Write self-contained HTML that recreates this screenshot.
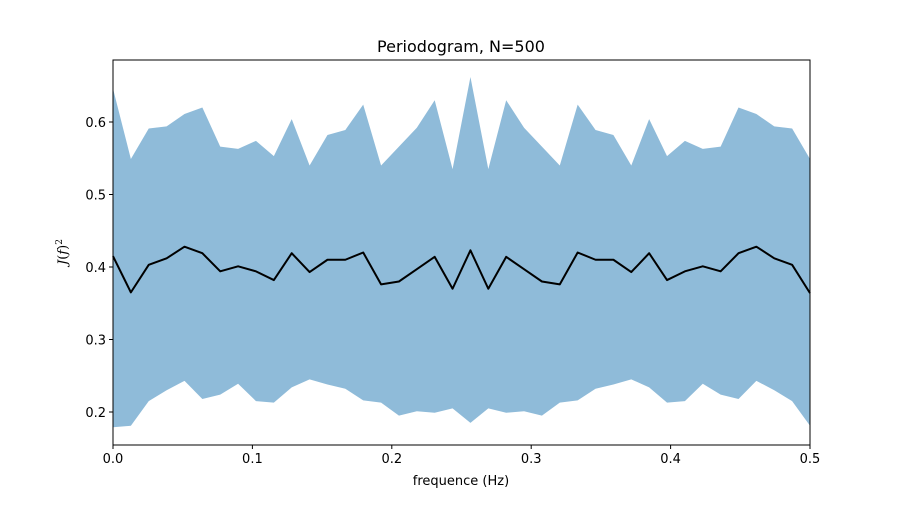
<!DOCTYPE html>
<html><head><meta charset="utf-8">
<style>
body{margin:0;background:#fff;}
svg text{font-family:"DejaVu Sans","Liberation Sans",sans-serif;fill:#000;}
</style></head>
<body>
<svg id="chart" width="900" height="500" viewBox="0 0 900 500" xmlns="http://www.w3.org/2000/svg">
<rect width="900" height="500" fill="#fff"/>
<g id="plot"></g>
</svg>
<script>
const meanVals=[0.415,0.365,0.403,0.412,0.428,0.419,0.394,0.401,0.394,0.382,0.419,0.393,0.410,0.410,0.420,0.376,0.380,0.397,0.414,0.370,0.423,0.370,0.414,0.397,0.380,0.376,0.420,0.410,0.410,0.393,0.419,0.382,0.394,0.401,0.394,0.419,0.428,0.412,0.403,0.364];
const upperVals=[0.646,0.549,0.591,0.594,0.611,0.620,0.566,0.563,0.574,0.553,0.604,0.540,0.582,0.589,0.624,0.540,0.566,0.592,0.630,0.535,0.662,0.535,0.630,0.592,0.566,0.540,0.624,0.589,0.582,0.540,0.604,0.553,0.574,0.563,0.566,0.620,0.611,0.594,0.591,0.549];
const lowerVals=[0.179,0.181,0.215,0.230,0.243,0.218,0.224,0.239,0.215,0.213,0.234,0.245,0.238,0.232,0.216,0.213,0.195,0.201,0.199,0.205,0.185,0.205,0.199,0.201,0.195,0.213,0.216,0.232,0.238,0.245,0.234,0.213,0.215,0.239,0.224,0.218,0.243,0.230,0.215,0.181];
const xTicks=[0,0.1,0.2,0.3,0.4,0.5];
const xTickLabels=["0.0","0.1","0.2","0.3","0.4","0.5"];
const yTicks=[0.2,0.3,0.4,0.5,0.6];
const yTickLabels=["0.2","0.3","0.4","0.5","0.6"];
const freqMax=0.5;

const L=113,R=810,T=60,B=445;
const yMin=0.1545,yMax=0.6855;
const xs=v=>L+(v/freqMax)*(R-L);
const ys=v=>B-(v-yMin)/(yMax-yMin)*(B-T);
const freqs=meanVals.map((_,i)=>i*freqMax/(meanVals.length-1));
const NS="http://www.w3.org/2000/svg";
const g=document.getElementById('plot');
function mk(tag,attrs){const e=document.createElementNS(NS,tag);for(const k in attrs)e.setAttribute(k,attrs[k]);g.appendChild(e);return e;}

let d=freqs.map((f,i)=>(i?'L':'M')+xs(f).toFixed(2)+','+ys(upperVals[i]).toFixed(2)).join('');
for(let i=freqs.length-1;i>=0;i--)d+='L'+xs(freqs[i]).toFixed(2)+','+ys(lowerVals[i]).toFixed(2);
const band=mk('path',{d:d+'Z',fill:'#8fbbd9'});



const line=mk('polyline',{points:freqs.map((f,i)=>xs(f).toFixed(2)+','+ys(meanVals[i]).toFixed(2)).join(' '),fill:'none',stroke:'#000','stroke-width':2,'stroke-linejoin':'round'});



const frame=mk('rect',{x:L,y:T,width:R-L,height:B-T,fill:'none',stroke:'#000','stroke-width':1});



xTicks.forEach((v,i)=>{
  const x=xs(v);
  const t=mk('line',{x1:x,x2:x,y1:B,y2:B+4,stroke:'#000'});
  
  
  const l=mk('text',{x:x,y:B+18,'text-anchor':'middle','font-size':13});
  l.textContent=xTickLabels[i];
  
  
});
yTicks.forEach((v,i)=>{
  const y=ys(v);
  const t=mk('line',{x1:L-4,x2:L,y1:y,y2:y,stroke:'#000'});
  
  
  const l=mk('text',{x:L-7,y:y+5,'text-anchor':'end','font-size':13});
  l.textContent=yTickLabels[i];
  
  
});
</script>
<svg style="position:absolute;left:0;top:0" width="900" height="500" xmlns="http://www.w3.org/2000/svg">
<text x="461" y="52" text-anchor="middle" font-size="16" style="font-family:'DejaVu Sans','Liberation Sans',sans-serif">Periodogram, N=500</text>
<text x="461" y="485" text-anchor="middle" font-size="13" style="font-family:'DejaVu Sans','Liberation Sans',sans-serif">frequence (Hz)</text>
<text transform="translate(67,252) rotate(-90)" text-anchor="middle" font-size="13" style="font-family:'DejaVu Serif','Liberation Serif',serif"><tspan font-style="italic">J</tspan>(<tspan font-style="italic">f</tspan>)<tspan font-size="9" dy="-5">2</tspan></text>
</svg>
</body></html>
